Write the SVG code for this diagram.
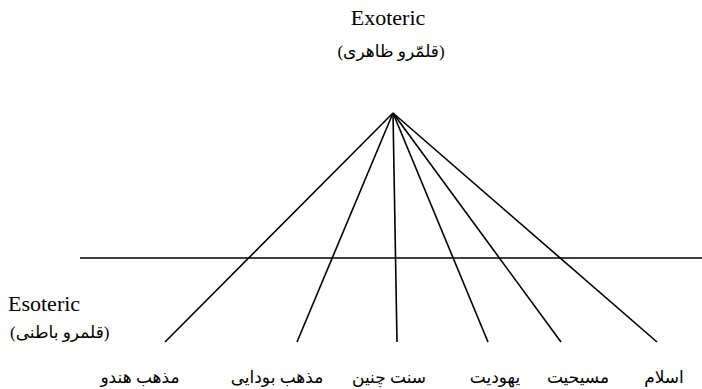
<svg xmlns="http://www.w3.org/2000/svg" width="702" height="389" viewBox="0 0 702 389">
<style>
.ln{stroke:#000;stroke-width:1.6;fill:none}
.en{font-family:"Liberation Serif","Times New Roman",serif;font-size:22px;fill:#000}
.fa{font-family:"Liberation Serif","DejaVu Sans",serif;font-size:17px;fill:#000}
</style>
<rect width="702" height="389" fill="#fff"/>
<g id="exoteric">
<text class="en" x="388" y="25" text-anchor="middle">Exoteric</text>
<text class="fa" x="391" y="57" text-anchor="middle" direction="rtl">(قلمّرو ظاهری)</text>
</g>
<g id="esoteric">
<text class="en" x="8" y="311">Esoteric</text>
<text class="fa" x="10" y="338" direction="rtl" text-anchor="end">(قلمرو باطنی)</text>
</g>
<g id="connectors">
<line class="ln" x1="80" y1="258" x2="702" y2="258"/>
<line class="ln" x1="393" y1="113" x2="165" y2="342"/>
<line class="ln" x1="393" y1="113" x2="297" y2="342"/>
<line class="ln" x1="393" y1="113" x2="397" y2="342"/>
<line class="ln" x1="393" y1="113" x2="488" y2="342"/>
<line class="ln" x1="393" y1="113" x2="561" y2="342"/>
<line class="ln" x1="393" y1="113" x2="657" y2="342"/>
</g>
<g id="hindu"><text class="fa" x="140" y="383" text-anchor="middle" direction="rtl">مذهب هندو</text></g>
<g id="buddhism"><text class="fa" x="277" y="383" text-anchor="middle" direction="rtl">مذهب بودایی</text></g>
<g id="chinese"><text class="fa" x="389" y="383" text-anchor="middle" direction="rtl">سنت چنین</text></g>
<g id="judaism"><text class="fa" x="495" y="383" text-anchor="middle" direction="rtl">یهودیت</text></g>
<g id="christianity"><text class="fa" x="578" y="383" text-anchor="middle" direction="rtl">مسیحیت</text></g>
<g id="islam"><text class="fa" x="664" y="383" text-anchor="middle" direction="rtl">اسلام</text></g>
</svg>
